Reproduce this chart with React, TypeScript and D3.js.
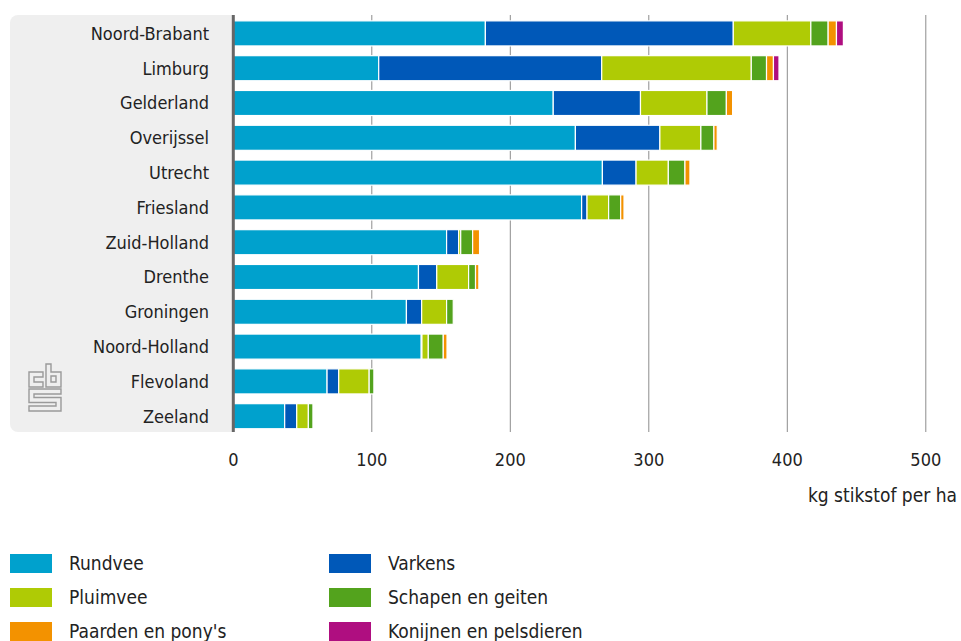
import React, { useEffect } from "react";
import * as d3 from "d3";

const provinces = [
  "Noord-Brabant", "Limburg", "Gelderland", "Overijssel", "Utrecht", "Friesland",
  "Zuid-Holland", "Drenthe", "Groningen", "Noord-Holland", "Flevoland", "Zeeland",
];
const rundvee = [182, 105, 231, 247, 266.5, 251.5, 154, 133.7, 125, 135.7, 67.7, 37.1];
const varkens = [179, 161, 63, 61, 24.3, 3.9, 8.7, 13.2, 11, 0.5, 8.4, 8.7];
const pluimvee = [56, 108, 48, 29.6, 23.3, 15.6, 1.5, 23, 18, 4.6, 22, 8.4];
const schapen = [12.5, 11, 14, 9.4, 12, 8.7, 8.6, 5, 4.8, 10.8, 3.4, 3.3];
const paarden = [6, 5, 4.5, 2.4, 3.6, 2.4, 5, 2.4, 0, 2.7, 0, 0];
const konijnen = [5, 4, 0, 0, 0, 0, 0, 0, 0, 0, 0, 0];

const seriesNames = [
  "Rundvee", "Varkens", "Pluimvee", "Schapen en geiten", "Paarden en pony's", "Konijnen en pelsdieren",
];
const seriesValues = [rundvee, varkens, pluimvee, schapen, paarden, konijnen];
const seriesColors = ["#00a1cd", "#0058b8", "#afcb05", "#53a31d", "#f39200", "#af0e80"];
const xTicks = [0, 100, 200, 300, 400, 500];
const axisTitle = "kg stikstof per ha";

const W = 961;
const H = 641;
const FONT = "'DejaVu Sans Condensed', 'Liberation Sans Narrow', 'Roboto', sans-serif";

export default function App() {
  useEffect(() => {
    document.body.style.margin = "0";
  }, []);

  const x = d3.scaleLinear().domain([0, 500]).range([233.3, 925.8]);
  const y = d3
    .scaleBand<string>()
    .domain(provinces)
    .range([16, 433.6])
    .paddingInner(0.28)
    .paddingOuter(0.14);

  const rows = provinces.map((p, i) => {
    const obj: Record<string, number | string> = { province: p };
    seriesNames.forEach((s, k) => (obj[s] = seriesValues[k][i]));
    return obj;
  });
  const stack = d3.stack<Record<string, number | string>>().keys(seriesNames)(rows as any);

  const legendCols = [10, 329];
  const legendRows = [563, 597, 631];

  return (
    <svg width={W} height={H} style={{ display: "block", background: "#fff" }} fontFamily={FONT}>
      {/* label panel */}
      <rect x={10} y={15} width={240} height={417} rx={8} ry={8} fill="#efefef" />
      <rect x={234} y={15} width={20} height={417} fill="#fff" />

      {/* gridlines */}
      {xTicks.slice(1).map((t) => (
        <line key={t} x1={x(t)} x2={x(t)} y1={15} y2={432} stroke="#8c8c8c" strokeWidth={1} />
      ))}

      {/* bars */}
      {stack.map((layer, k) => (
        <g key={seriesNames[k]} fill={seriesColors[k]}>
          {layer.map((d, i) => {
            const w = x(d[1]) - x(d[0]);
            if (w <= 0) return null;
            return (
              <rect
                key={i}
                x={x(d[0])}
                y={y(provinces[i])!}
                width={w}
                height={y.bandwidth()}
                stroke="#fff"
                strokeWidth={1.2}
              />
            );
          })}
        </g>
      ))}

      {/* axis line */}
      <line x1={233.3} x2={233.3} y1={15} y2={432} stroke="#666" strokeWidth={3} />

      {/* category labels */}
      {provinces.map((p) => (
        <text
          key={p}
          x={209}
          y={y(p)! + y.bandwidth() / 2}
          dy="0.35em"
          textAnchor="end"
          fontSize={18}
          fill="#222"
        >
          {p}
        </text>
      ))}

      {/* tick labels */}
      {xTicks.map((t) => (
        <text key={t} x={x(t)} y={460} dy="0.35em" textAnchor="middle" fontSize={18} fill="#222">
          {t}
        </text>
      ))}
      <text x={957} y={495} dy="0.35em" textAnchor="end" fontSize={19} fill="#222">
        {axisTitle}
      </text>

      {/* CBS logo */}
      <g transform="translate(29,364)" fill="none" stroke="#9a9a9a" strokeWidth={1.4}>
        <path d="M0,8 H14 V13 H5 V18 H14 V23 H0 Z" />
        <path d="M17,0 H22 V8 H32 V23 H17 Z" />
        <path d="M22,12 H27 V18 H22 Z" />
        <path d="M0,25 H32 V30 H5 V33.5 H32 V47 H0 V42 H27 V38.5 H0 Z" />
      </g>

      {/* legend */}
      {seriesNames.map((s, k) => {
        const cx = legendCols[k % 2];
        const cy = legendRows[Math.floor(k / 2)];
        return (
          <g key={s}>
            <rect x={cx} y={cy - 9} width={42} height={19} fill={seriesColors[k]} />
            <text x={cx + 59} y={cy} dy="0.35em" fontSize={19} fill="#222">
              {s}
            </text>
          </g>
        );
      })}
    </svg>
  );
}
